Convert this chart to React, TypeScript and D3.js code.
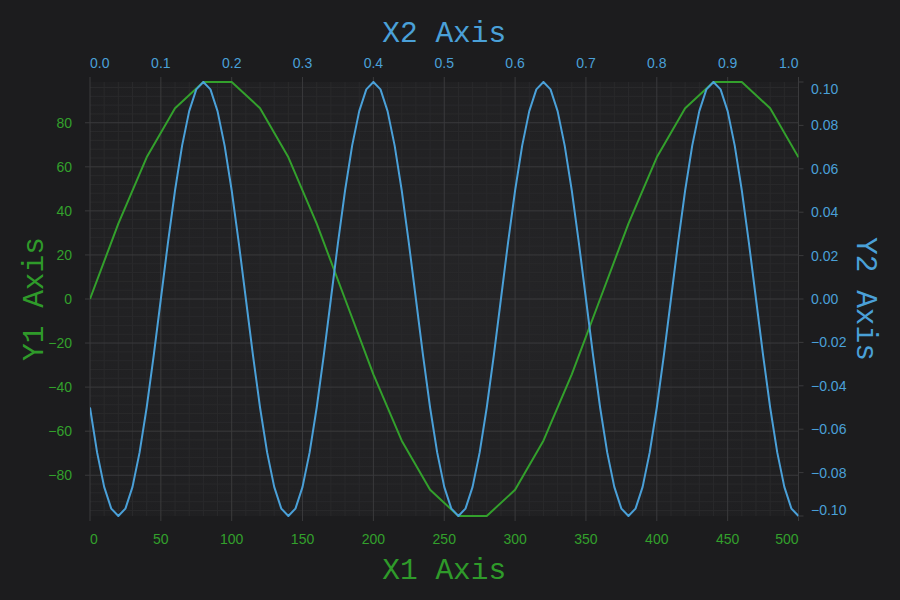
import React from "react";
import * as d3 from "d3";

// Series 1 (X1/Y1 axes): x step 20, y = value
const x1Values: number[] = d3.range(0, 501, 20);
const y1Values: number[] = [
  0, 34.2, 64.3, 86.6, 98.5, 98.5, 86.6, 64.3, 34.2, 0, -34.2, -64.3, -86.6, -98.5,
  -98.5, -86.6, -64.3, -34.2, 0, 34.2, 64.3, 86.6, 98.5, 98.5, 86.6, 64.3,
];

// Series 2 (X2/Y2 axes): x step 0.01
const x2Values: number[] = d3.range(0, 101).map((i) => i / 100);
// one cycle of 24 samples repeated
const y2Cycle: number[] = [
  -0.05, -0.0707, -0.0866, -0.0966, -0.1, -0.0966, -0.0866, -0.0707, -0.05, -0.0259, 0, 0.0259,
  0.05, 0.0707, 0.0866, 0.0966, 0.1, 0.0966, 0.0866, 0.0707, 0.05, 0.0259, 0, -0.0259,
];
const y2Values: number[] = x2Values.map((_, i) => y2Cycle[i % 24]);

const x1Ticks = [0, 50, 100, 150, 200, 250, 300, 350, 400, 450, 500];
const x2Ticks = [0, 0.1, 0.2, 0.3, 0.4, 0.5, 0.6, 0.7, 0.8, 0.9, 1.0];
const y1Ticks = [-80, -60, -40, -20, 0, 20, 40, 60, 80];
const y2Ticks = [-0.1, -0.08, -0.06, -0.04, -0.02, 0, 0.02, 0.04, 0.06, 0.08, 0.1];

const W = 900;
const H = 600;
const L = 90;
const R = 798.5;
const T = 82;
const B = 516;

const GREEN = "#33a02c";
const GREEN_TITLE = "#2f9a2a";
const BLUE = "#4aa0d8";
const GRID_MAJOR = "#3a3a3c";
const GRID_MINOR = "#29292b";
const SANS = "'Liberation Sans', Arial, sans-serif";
const MONO = "'Liberation Mono', 'Courier New', monospace";

export default function App() {
  const x1 = d3.scaleLinear().domain([0, 500]).range([L, R]);
  const x2 = d3.scaleLinear().domain([0, 1]).range([L, R]);
  const y1 = d3.scaleLinear().domain([-98.5, 98.5]).range([B, T]);
  const y2 = d3.scaleLinear().domain([-0.1, 0.1]).range([B, T]);

  const line1 = d3
    .line<number>()
    .x((_, i) => x1(x1Values[i]))
    .y((d) => y1(d));
  const line2 = d3
    .line<number>()
    .x((_, i) => x2(x2Values[i]))
    .y((d) => y2(d));

  const xMinor = d3.range(0, 501, 10).filter((v) => v % 50 !== 0);
  const yMinor = d3.range(-96, 97, 4).filter((v) => v % 20 !== 0);

  return (
    <svg
      width={W}
      height={H}
      style={{ position: "absolute", left: 0, top: 0, background: "#1c1c1e" }}
    >
      <defs>
        <radialGradient id="pbg" cx="50%" cy="50%" r="70%">
          <stop offset="0%" stopColor="#252527" />
          <stop offset="100%" stopColor="#1f1f21" />
        </radialGradient>
        <clipPath id="clip">
          <rect x={L} y={T - 1} width={R - L} height={B - T + 2} />
        </clipPath>
      </defs>
      <rect x={0} y={0} width={W} height={H} fill="#1c1c1e" />
      <rect x={L} y={T} width={R - L} height={B - T} fill="url(#pbg)" />

      {/* minor grid */}
      {xMinor.map((v) => (
        <line key={"xm" + v} x1={x1(v)} x2={x1(v)} y1={T} y2={B} stroke={GRID_MINOR} strokeWidth={1} />
      ))}
      {yMinor.map((v) => (
        <line key={"ym" + v} x1={L} x2={R} y1={y1(v)} y2={y1(v)} stroke={GRID_MINOR} strokeWidth={1} />
      ))}
      {/* major grid + ticks */}
      {x1Ticks.map((v) => (
        <line key={"xg" + v} x1={x1(v)} x2={x1(v)} y1={T - 5} y2={B + 5} stroke={GRID_MAJOR} strokeWidth={1} />
      ))}
      {y1Ticks.map((v) => (
        <line key={"yg" + v} x1={L - 5} x2={R} y1={y1(v)} y2={y1(v)} stroke={GRID_MAJOR} strokeWidth={1} />
      ))}
      {y2Ticks.map((v) => (
        <line key={"y2t" + v} x1={R} x2={R + 5} y1={y2(v)} y2={y2(v)} stroke={GRID_MAJOR} strokeWidth={1} />
      ))}

      {/* series */}
      <g clipPath="url(#clip)">
        <path d={line1(y1Values) || ""} fill="none" stroke={GREEN} strokeWidth={2} strokeLinejoin="round" />
        <path d={line2(y2Values) || ""} fill="none" stroke={BLUE} strokeWidth={2} strokeLinejoin="round" />
      </g>

      {/* X1 tick labels */}
      {x1Ticks.map((v, i) => (
        <text
          key={"x1l" + v}
          x={x1(v)}
          y={544}
          fill={GREEN}
          fontFamily={SANS}
          fontSize={14}
          textAnchor={i === 0 ? "start" : i === x1Ticks.length - 1 ? "end" : "middle"}
        >
          {d3.format("d")(v)}
        </text>
      ))}
      {/* X2 tick labels */}
      {x2Ticks.map((v, i) => (
        <text
          key={"x2l" + v}
          x={x2(v)}
          y={68}
          fill={BLUE}
          fontFamily={SANS}
          fontSize={14}
          textAnchor={i === 0 ? "start" : i === x2Ticks.length - 1 ? "end" : "middle"}
        >
          {d3.format(".1f")(v)}
        </text>
      ))}
      {/* Y1 tick labels */}
      {y1Ticks.map((v) => (
        <text
          key={"y1l" + v}
          x={72}
          y={y1(v)}
          dy="0.35em"
          fill={GREEN}
          fontFamily={SANS}
          fontSize={14}
          textAnchor="end"
        >
          {d3.format("d")(v)}
        </text>
      ))}
      {/* Y2 tick labels */}
      {y2Ticks.map((v, i) => {
        const yy = y2(v);
        let dy = "0.35em";
        if (i === 0) dy = "-0.1em";
        if (i === y2Ticks.length - 1) dy = "0.85em";
        return (
          <text
            key={"y2l" + v}
            x={811}
            y={yy}
            dy={dy}
            fill={BLUE}
            fontFamily={SANS}
            fontSize={14}
            textAnchor="start"
          >
            {d3.format(".2f")(v)}
          </text>
        );
      })}

      {/* axis titles */}
      <text x={(L + R) / 2} y={579} fill={GREEN_TITLE} fontFamily={MONO} fontSize={29.5} textAnchor="middle">
        X1 Axis
      </text>
      <text x={(L + R) / 2} y={42} fill={BLUE} fontFamily={MONO} fontSize={29.5} textAnchor="middle">
        X2 Axis
      </text>
      <text
        transform={`translate(43,${(T + B) / 2}) rotate(-90)`}
        fill={GREEN_TITLE}
        fontFamily={MONO}
        fontSize={29.5}
        textAnchor="middle"
      >
        Y1 Axis
      </text>
      <text
        transform={`translate(857,${(T + B) / 2}) rotate(90)`}
        fill={BLUE}
        fontFamily={MONO}
        fontSize={29.5}
        textAnchor="middle"
      >
        Y2 Axis
      </text>
    </svg>
  );
}
